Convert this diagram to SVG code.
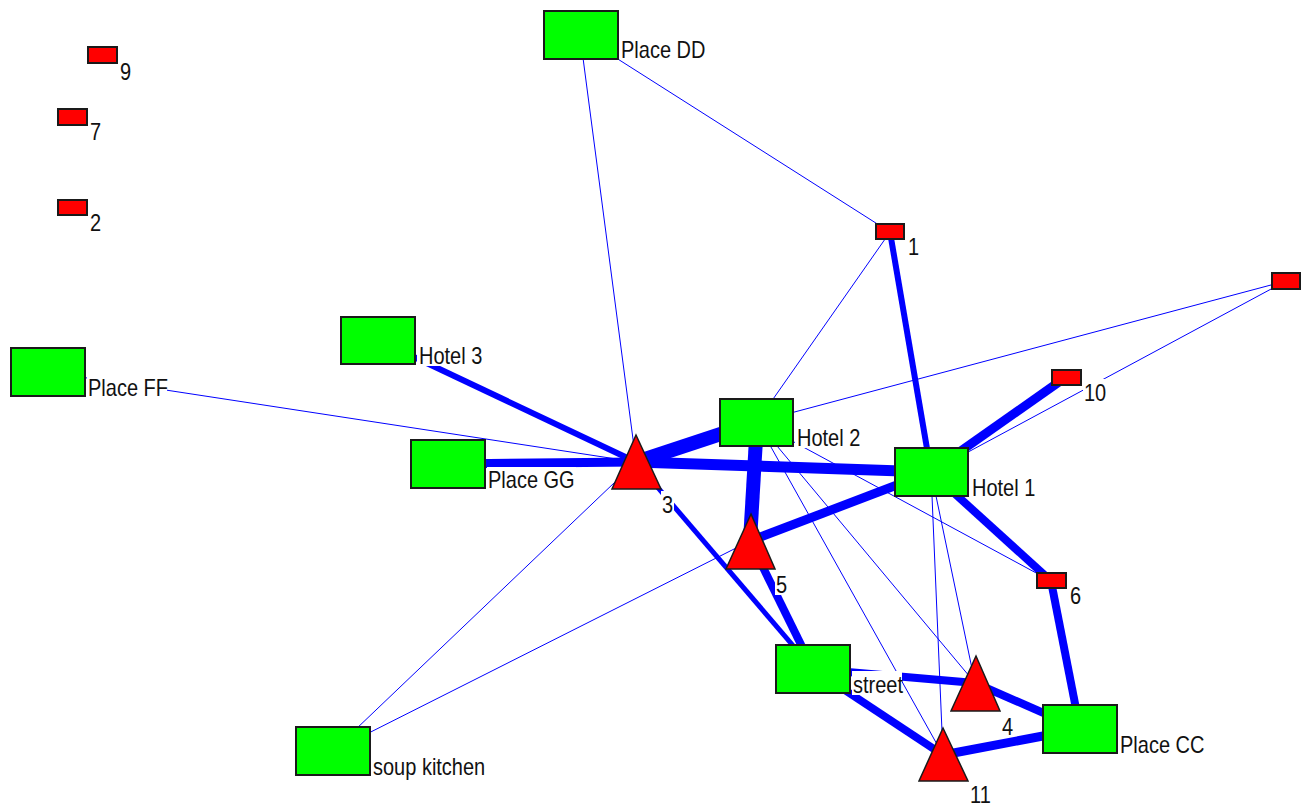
<svg xmlns="http://www.w3.org/2000/svg" width="1304" height="806" viewBox="0 0 1304 806">
<style>
.e{stroke:#0000ff;fill:none;stroke-linecap:butt}
.g{fill:#00ff00;stroke:#1a1a1a;stroke-width:2}
.r{fill:#ff0000;stroke:#1a1a1a;stroke-width:2}
.t{fill:#ff0000;stroke:#1a1a1a;stroke-width:1.5;stroke-linejoin:miter}
.bg{fill:#ffffff}
.lbl{font-family:"Liberation Sans",Arial,sans-serif;font-size:20px;fill:#111}
</style>
<rect x="0" y="0" width="1304" height="806" fill="#ffffff"/>
<g id="edges">
<line class="e" stroke-width="1" x1="580" y1="35" x2="890" y2="232"/>
<line class="e" stroke-width="1" x1="580" y1="35" x2="636" y2="462"/>
<line class="e" stroke-width="1" x1="890" y1="232" x2="757" y2="422"/>
<line class="e" stroke-width="6" x1="890" y1="232" x2="931" y2="472"/>
<line class="e" stroke-width="1" x1="48" y1="372" x2="636" y2="462"/>
<line class="e" stroke-width="6" x1="378" y1="340" x2="636" y2="462"/>
<line class="e" stroke-width="9" x1="448" y1="464" x2="636" y2="462"/>
<line class="e" stroke-width="14" x1="636" y1="462" x2="757" y2="422"/>
<line class="e" stroke-width="11" x1="636" y1="462" x2="931" y2="472"/>
<line class="e" stroke-width="5" x1="636" y1="462" x2="813" y2="669"/>
<line class="e" stroke-width="1" x1="636" y1="462" x2="333" y2="751"/>
<line class="e" stroke-width="1" x1="333" y1="751" x2="750" y2="541"/>
<line class="e" stroke-width="14" x1="757" y1="422" x2="750" y2="541"/>
<line class="e" stroke-width="9" x1="750" y1="541" x2="931" y2="472"/>
<line class="e" stroke-width="8" x1="750" y1="541" x2="813" y2="669"/>
<line class="e" stroke-width="1" x1="757" y1="422" x2="1051" y2="581"/>
<line class="e" stroke-width="1" x1="757" y1="422" x2="943" y2="755"/>
<line class="e" stroke-width="1" x1="757" y1="422" x2="975" y2="683"/>
<line class="e" stroke-width="1" x1="757" y1="422" x2="1286" y2="281"/>
<line class="e" stroke-width="1" x1="931" y1="472" x2="1286" y2="281"/>
<line class="e" stroke-width="9" x1="931" y1="472" x2="1066" y2="377"/>
<line class="e" stroke-width="8" x1="931" y1="472" x2="1051" y2="581"/>
<line class="e" stroke-width="1" x1="931" y1="472" x2="943" y2="755"/>
<line class="e" stroke-width="1" x1="931" y1="472" x2="975" y2="683"/>
<line class="e" stroke-width="8" x1="1051" y1="581" x2="1080" y2="729"/>
<line class="e" stroke-width="8" x1="975" y1="683" x2="1080" y2="729"/>
<line class="e" stroke-width="9" x1="943" y1="755" x2="1080" y2="729"/>
<line class="e" stroke-width="8" x1="813" y1="669" x2="943" y2="755"/>
<line class="e" stroke-width="8" x1="813" y1="669" x2="975" y2="683"/>
</g>
<g id="node-9"><rect class="r" x="88" y="47" width="29" height="16"/><rect class="bg" x="119" y="58" width="14" height="24"/><text class="lbl" transform="translate(120 80) scale(1 1.17)">9</text></g>
<g id="node-7"><rect class="r" x="58" y="109" width="29" height="16"/><rect class="bg" x="89" y="118" width="14" height="24"/><text class="lbl" transform="translate(90 140) scale(1 1.17)">7</text></g>
<g id="node-2"><rect class="r" x="58" y="200" width="29" height="15"/><rect class="bg" x="89" y="209" width="14" height="24"/><text class="lbl" transform="translate(90 231) scale(1 1.17)">2</text></g>
<g id="node-1"><rect class="r" x="876" y="224" width="28" height="15"/><rect class="bg" x="907" y="233" width="14" height="24"/><text class="lbl" transform="translate(908 255) scale(1 1.17)">1</text></g>
<g id="node-6"><rect class="r" x="1037" y="573" width="29" height="15"/><rect class="bg" x="1069" y="582" width="14" height="24"/><text class="lbl" transform="translate(1070 604) scale(1 1.17)">6</text></g>
<g id="node-10"><rect class="r" x="1052" y="370" width="29" height="15"/><rect class="bg" x="1083" y="379" width="25" height="24"/><text class="lbl" transform="translate(1084 401) scale(1 1.17)">10</text></g>
<g id="node-r"><rect class="r" x="1272" y="273" width="28" height="16"/></g>
<g id="place-dd"><rect class="g" x="544" y="11" width="74" height="48"/><rect class="bg" x="620" y="36" width="88" height="24"/><text class="lbl" transform="translate(621 58) scale(1 1.17)">Place DD</text></g>
<g id="place-ff"><rect class="g" x="11" y="348" width="74" height="48"/><rect class="bg" x="87" y="374" width="80" height="24"/><text class="lbl" transform="translate(88 396) scale(1 1.17)">Place FF</text></g>
<g id="hotel-3"><rect class="g" x="341" y="317" width="74" height="47"/><rect class="bg" x="417" y="342" width="67" height="24"/><text class="lbl" transform="translate(419 364) scale(1 1.17)">Hotel 3</text></g>
<g id="place-gg"><rect class="g" x="411" y="440" width="74" height="48"/><rect class="bg" x="487" y="467" width="89" height="23"/><text class="lbl" transform="translate(488 488) scale(1 1.17)">Place GG</text></g>
<g id="hotel-2"><rect class="g" x="720" y="399" width="73" height="47"/><rect class="bg" x="795" y="424" width="67" height="24"/><text class="lbl" transform="translate(797 446) scale(1 1.17)">Hotel 2</text></g>
<g id="hotel-1"><rect class="g" x="895" y="448" width="73" height="48"/><rect class="bg" x="970" y="474" width="67" height="24"/><text class="lbl" transform="translate(972 496) scale(1 1.17)">Hotel 1</text></g>
<g id="street"><rect class="g" x="776" y="645" width="74" height="48"/><rect class="bg" x="852" y="671" width="50" height="24"/><text class="lbl" transform="translate(853 693) scale(1 1.17)">street</text></g>
<g id="place-cc"><rect class="g" x="1043" y="705" width="74" height="48"/><rect class="bg" x="1119" y="731" width="88" height="24"/><text class="lbl" transform="translate(1120 753) scale(1 1.17)">Place CC</text></g>
<g id="soup-kitchen"><rect class="g" x="296" y="727" width="74" height="48"/><rect class="bg" x="372" y="753" width="116" height="24"/><text class="lbl" transform="translate(373 775) scale(1 1.17)">soup kitchen</text></g>
<g id="node-3"><polygon class="t" points="636,435 661,489 612,489"/><rect class="bg" x="661" y="491" width="13" height="24"/><text class="lbl" transform="translate(662 513) scale(1 1.17)">3</text></g>
<g id="node-5"><polygon class="t" points="751,514 775,569 726,569"/><rect class="bg" x="775" y="571" width="13" height="24"/><text class="lbl" transform="translate(776 593) scale(1 1.17)">5</text></g>
<g id="node-4"><polygon class="t" points="976,656 1000,711 951,711"/><rect class="bg" x="1001" y="713" width="13" height="24"/><text class="lbl" transform="translate(1002 735) scale(1 1.17)">4</text></g>
<g id="node-11"><polygon class="t" points="943,728 968,781 919,781"/><rect class="bg" x="969" y="783" width="24" height="23"/><text class="lbl" transform="translate(970 803) scale(1 1.17)">11</text></g>
</svg>
